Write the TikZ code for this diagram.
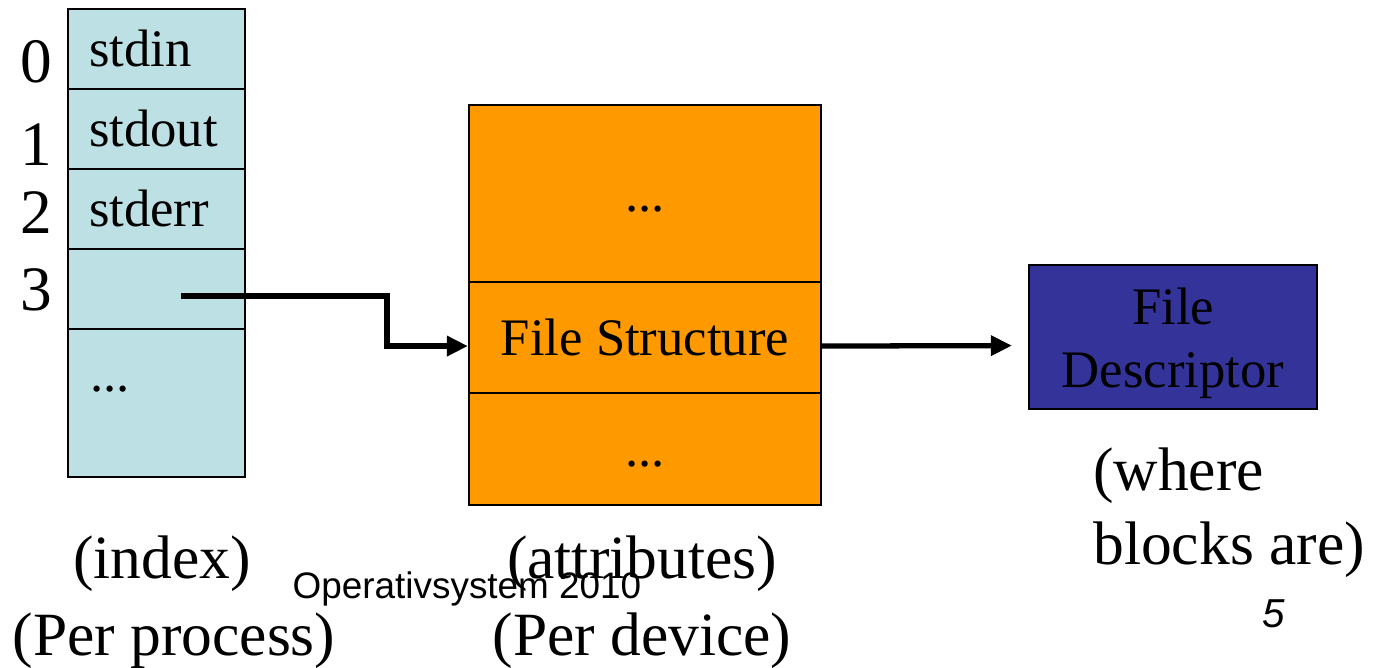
\documentclass[tikz,border=0pt]{standalone}
\usepackage{fontspec}
\setmainfont{Liberation Serif}
\newfontfamily\slidefont{Liberation Sans}
\usetikzlibrary{arrows.meta,positioning}
\definecolor{fdtable}{RGB}{189,224,228}
\definecolor{fstruct}{RGB}{255,153,0}
\definecolor{fdesc}{RGB}{51,51,153}

\begin{document}
\begin{tikzpicture}[x=0.02cm, y=-0.02cm,
		link/.style={line width=3pt, -{Triangle[length=12pt,width=11pt]}},
		idx/.style={font=\fontsize{36}{40}\selectfont, anchor=base},
		caption/.style={font=\fontsize{35}{42.5}\selectfont, anchor=base}]
		\useasboundingbox (0,0) rectangle (1388,667);
		\begin{scope}[every node/.style={draw, line width=1.2pt, fill=fdtable, anchor=north west,
				minimum width=3.54cm, text width=2.7cm, inner xsep=0.42cm, align=left,
				font=\fontsize{30}{36}\selectfont, text height=27pt, text depth=6.6pt}]
			\node[minimum height=1.6cm] (r0) at (67,8) {stdin};
			\node[minimum height=1.6cm] (r1) at (67,88) {stdout};
			\node[minimum height=1.6cm] (r2) at (67,168) {stderr};
			\node[minimum height=1.6cm] (r3) at (67,248) {};
			\node[minimum height=2.96cm] (r4) at (67,328) {};
		\end{scope}
		\node[anchor=base west, font=\fontsize{30}{36}\selectfont, inner sep=0pt] (rdots) at (90,391) {...};
		\node[idx] (n0) at (36,82) {0};
		\node[idx] (n1) at (36,165) {1};
		\node[idx] (n2) at (36,233) {2};
		\node[idx] (n3) at (36,310) {3};
		\begin{scope}[every node/.style={draw, line width=1.2pt, fill=fstruct, anchor=north west,
				minimum width=7.04cm, font=\fontsize{30}{36}\selectfont, text height=27pt, text depth=6.6pt}]
			\node[minimum height=3.54cm] (ftop) at (468,104) {...};
			\node[minimum height=2.22cm] (fs) at (468,281) {File Structure};
			\node[minimum height=2.24cm] (fbot) at (468,392) {...};
		\end{scope}
		\node[draw, line width=1.2pt, fill=fdesc, anchor=north west, minimum width=5.76cm,
			minimum height=2.88cm, align=center, font=\fontsize{30}{35.7}\selectfont] (fd) at (1028,264) {\rule{0pt}{0.98cm}File\\Descriptor};
		\coordinate (ptr) at (181,296);
		\coordinate (turn) at (387,296);
		\draw[link] (ptr) -- (turn) |- ([yshift=-0.17cm]fs.west);
		\draw[link, shorten >=0.32cm] ([yshift=-0.17cm]fs.east) -- ([yshift=-0.17cm]fd.west);
		\node[caption] (cidx) at (162,578) {(index)};
		\node[caption] (cproc) at (174,655) {(Per process)};
		\node[caption] (cattr) at (642,578) {(attributes)};
		\node[caption] (cdev) at (642,655) {(Per device)};
		\node[caption, anchor=north west, align=left, inner sep=0pt] (cwhere) at (1093,447) {(where\\blocks are)};
		\node[anchor=base, font=\slidefont\fontsize{21}{24}\selectfont] (foot) at (467,598) {Operativsystem 2010};
		\node[anchor=base, font=\slidefont\itshape\fontsize{23}{26}\selectfont] (pnum) at (1274,627) {5};
	\end{tikzpicture}
\end{document}
